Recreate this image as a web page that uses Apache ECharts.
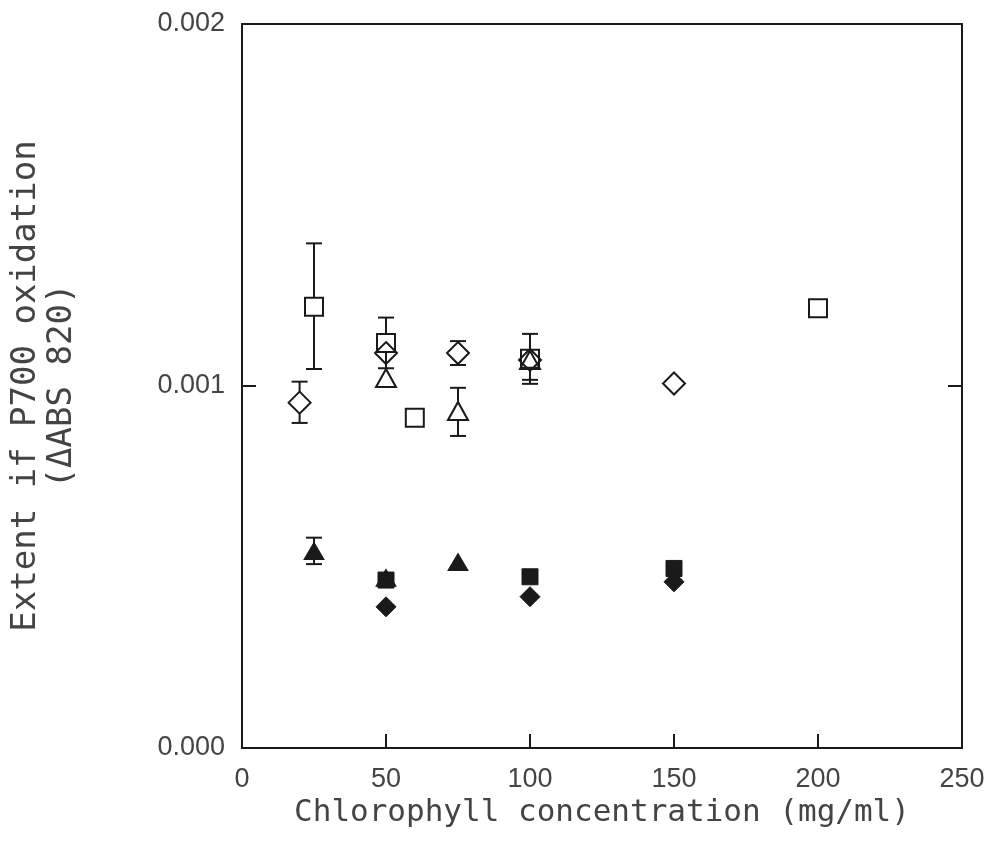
<!DOCTYPE html>
<html>
<head>
<meta charset="utf-8">
<script src="https://cdn.jsdelivr.net/npm/echarts@6/dist/echarts.min.js"></script>
<style>html,body{margin:0;padding:0;background:#fff}#c{width:1005px;height:853px}</style>
</head>
<body>
<div id="c"></div>
<script>
// ---- data (x in mg/ml, y in ΔABS 820) ----
const xTicks = [0, 50, 100, 150, 200, 250];
const yTicks = [0.000, 0.001, 0.002];

const openSquareX  = [25, 50, 60, 100, 200];
const openSquareY  = [0.001219, 0.001119, 0.000912, 0.001075, 0.001215];
const openSquareHi = [0.001394, 0.001189, null, 0.001144, null];
const openSquareLo = [0.001047, 0.001049, null, 0.001006, null];

const openDiamondX  = [20, 50, 75, 100, 150];
const openDiamondY  = [0.000954, 0.001091, 0.001091, 0.001072, 0.001007];
const openDiamondHi = [0.001012, null, 0.001124, null, null];
const openDiamondLo = [0.000898, null, 0.001058, null, null];

const openTriangleX  = [50, 75, 100];
const openTriangleY  = [0.001022, 0.000931, 0.001072];
const openTriangleHi = [null, 0.000995, null];
const openTriangleLo = [null, 0.000862, 0.001017];

const filledTriangleX  = [25, 50, 75];
const filledTriangleY  = [0.000544, 0.000470, 0.000514];
const filledTriangleHi = [0.000581, null, null];
const filledTriangleLo = [0.000508, null, null];

const filledSquareX = [50, 100, 150];
const filledSquareY = [0.000464, 0.000473, 0.000496];

const filledDiamondX = [50, 100, 150];
const filledDiamondY = [0.000390, 0.000418, 0.000459];

// ---- helpers ----
function pts(xs, ys) { return xs.map((x, i) => [x, ys[i]]); }
function errData(xs, ys, hi, lo) {
  const out = [];
  xs.forEach((x, i) => {
    if (hi[i] != null || lo[i] != null) out.push([x, ys[i], hi[i] == null ? '-' : hi[i], lo[i] == null ? '-' : lo[i]]);
  });
  return out;
}
const INK = '#1a1a1a';
const TEXT = '#444444';

function errSeries(data, half) {
  return {
    type: 'custom',
    data: data,
    z: 1,
    renderItem: function (params, api) {
      const x = api.value(0), y = api.value(1), hi = api.value(2), lo = api.value(3);
      const c = api.coord([x, y]);
      const cap = 8;
      const children = [];
      const st = { stroke: INK, lineWidth: 2 };
      if (typeof hi === 'number' && !isNaN(hi)) {
        const t = api.coord([x, hi]);
        children.push({ type: 'line', shape: { x1: c[0], y1: c[1] - half, x2: t[0], y2: t[1] }, style: st });
        children.push({ type: 'line', shape: { x1: t[0] - cap, y1: t[1], x2: t[0] + cap, y2: t[1] }, style: st });
      }
      if (typeof lo === 'number' && !isNaN(lo)) {
        const b = api.coord([x, lo]);
        children.push({ type: 'line', shape: { x1: c[0], y1: c[1] + half, x2: b[0], y2: b[1] }, style: st });
        children.push({ type: 'line', shape: { x1: b[0] - cap, y1: b[1], x2: b[0] + cap, y2: b[1] }, style: st });
      }
      return { type: 'group', children: children };
    }
  };
}

function scatter(name, data, symbol, size, filled) {
  return {
    name: name,
    type: 'scatter',
    data: data,
    symbol: symbol,
    symbolSize: size,
    z: 3,
    itemStyle: filled
      ? { color: INK, borderColor: INK, borderWidth: 1, opacity: 1 }
      : { color: 'rgba(255,255,255,0)', borderColor: INK, borderWidth: 2, opacity: 1 },
    emphasis: { disabled: true }
  };
}

const chart = echarts.init(document.getElementById('c'), null, { renderer: 'canvas' });

const axisLineStyle = { color: INK, width: 2 };
const tickStyle = { show: true, inside: true, length: 14, lineStyle: { color: INK, width: 2 } };
const option = {
  backgroundColor: '#ffffff',
  animation: false,
  grid: { left: 242, right: 43, top: 24, bottom: 105 },
  xAxis: [{
    type: 'value', min: 0, max: 250, interval: 50,
    name: 'Chlorophyll concentration (mg/ml)',
    nameLocation: 'middle', nameGap: 36,
    nameTextStyle: { fontFamily: 'DejaVu Sans Mono', fontSize: 31, color: TEXT },
    axisLine: { show: true, onZero: false, lineStyle: axisLineStyle },
    axisTick: tickStyle,
    axisLabel: { margin: 18, fontFamily: 'Liberation Sans', fontSize: 27, color: TEXT,
      formatter: v => (xTicks.indexOf(v) >= 0 ? String(v) : '') },
    splitLine: { show: false }
  }, {
    type: 'value', min: 0, max: 250, interval: 50, position: 'top',
    axisLine: { show: true, onZero: false, lineStyle: axisLineStyle },
    axisTick: { show: false }, axisLabel: { show: false }, splitLine: { show: false }
  }],
  yAxis: [{
    type: 'value', min: 0, max: 0.002, interval: 0.001,
    name: 'Extent if P700 oxidation\n(ΔABS 820)',
    nameLocation: 'middle', nameGap: 162,
    nameTextStyle: { fontFamily: 'DejaVu Sans Mono', fontSize: 34, color: TEXT, lineHeight: 36 },
    axisLine: { show: true, onZero: false, lineStyle: axisLineStyle },
    axisTick: tickStyle,
    axisLabel: { margin: 17, fontFamily: 'Liberation Sans', fontSize: 27, color: TEXT,
      formatter: v => (yTicks.some(t => Math.abs(t - v) < 1e-9) ? v.toFixed(3) : '') },
    splitLine: { show: false }
  }, {
    type: 'value', min: 0, max: 0.002, interval: 0.001, position: 'right',
    axisLine: { show: true, onZero: false, lineStyle: axisLineStyle },
    axisTick: tickStyle,
    axisLabel: { show: false }, splitLine: { show: false }
  }],
  series: [
    errSeries(errData(openSquareX, openSquareY, openSquareHi, openSquareLo), 9),
    errSeries(errData(openDiamondX, openDiamondY, openDiamondHi, openDiamondLo), 11),
    errSeries(errData(openTriangleX, openTriangleY, openTriangleHi, openTriangleLo), 9),
    errSeries(errData(filledTriangleX, filledTriangleY, filledTriangleHi, filledTriangleLo), 7),
    scatter('open square', pts(openSquareX, openSquareY), 'rect', [18, 18], false),
    scatter('open diamond', pts(openDiamondX, openDiamondY), 'diamond', [22, 22], false),
    scatter('open triangle', pts(openTriangleX, openTriangleY), 'triangle', [20, 18], false),
    scatter('filled triangle', pts(filledTriangleX, filledTriangleY), 'triangle', [20, 17], true),
    scatter('filled square', pts(filledSquareX, filledSquareY), 'rect', [16, 16], true),
    scatter('filled diamond', pts(filledDiamondX, filledDiamondY), 'diamond', [20, 20], true)
  ]
};
chart.setOption(option);
</script>
</body>
</html>
